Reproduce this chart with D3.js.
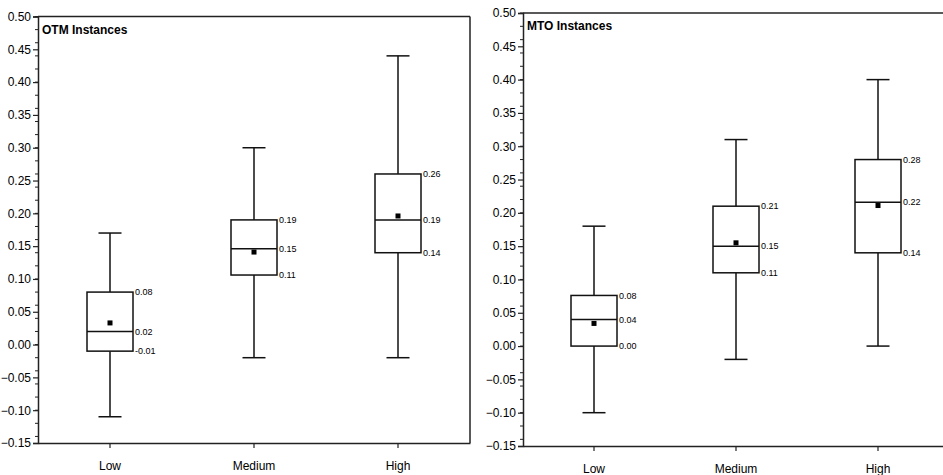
<!DOCTYPE html>
<html>
<head>
<meta charset="utf-8">
<script src="https://cdn.jsdelivr.net/npm/d3@7"></script>
<style>
  body { margin: 0; background: #fff; }
  text { font-family: "Liberation Sans", Arial, sans-serif; fill: #000; }
</style>
</head>
<body>
<div id="chart"></div>
<script>
// Categories and box statistics for both panels
var categories = ["Low", "Medium", "High"];

var otmMin = [-0.11, -0.02, -0.02];
var otmQ1 = [-0.01, 0.106, 0.14];
var otmMedian = [0.02, 0.146, 0.19];
var otmQ3 = [0.08, 0.19, 0.26];
var otmMax = [0.17, 0.30, 0.44];
var otmMean = [0.033, 0.141, 0.196];

var mtoMin = [-0.10, -0.02, 0.00];
var mtoQ1 = [0.00, 0.11, 0.14];
var mtoMedian = [0.04, 0.15, 0.216];
var mtoQ3 = [0.076, 0.21, 0.28];
var mtoMax = [0.18, 0.31, 0.40];
var mtoMean = [0.034, 0.155, 0.211];

var yDomain = [-0.15, 0.50];

var width = 943, height = 475;

var svg = d3.select("#chart")
  .append("svg")
  .attr("width", width)
  .attr("height", height);

var fmt = d3.format(".2f");

function drawPanel(opts) {
  var x = d3.scaleBand().domain(categories).range([opts.left, opts.right]).padding(0);
  var y = d3.scaleLinear().domain(yDomain).range([opts.bottom, opts.top]);
  var g = svg.append("g");

  var rows = categories.map(function(c, i) {
    return { cat: c, min: opts.min[i], q1: opts.q1[i], med: opts.median[i],
             q3: opts.q3[i], max: opts.max[i], mean: opts.mean[i] };
  });

  // frame
  g.append("line").attr("x1", opts.left).attr("x2", opts.right)
    .attr("y1", opts.top).attr("y2", opts.top)
    .attr("stroke", "#222").attr("stroke-width", 1.5);
  if (opts.rightBorder) {
    g.append("line").attr("x1", opts.right).attr("x2", opts.right)
      .attr("y1", opts.top).attr("y2", opts.bottom)
      .attr("stroke", "#222").attr("stroke-width", 1.5);
  }

  // minor y ticks
  g.selectAll(".minor").data(y.ticks(26)).enter().append("line")
    .attr("x1", opts.left - 3).attr("x2", opts.left)
    .attr("y1", function(d) { return y(d); })
    .attr("y2", function(d) { return y(d); })
    .attr("stroke", "#222").attr("stroke-width", 1);

  // y axis
  var yAxis = g.append("g")
    .attr("transform", "translate(" + opts.left + ",0)")
    .call(d3.axisLeft(y).ticks(13).tickFormat(fmt).tickSize(5).tickPadding(2));
  yAxis.select(".domain").attr("stroke", "#222").attr("stroke-width", 1.5);
  yAxis.selectAll(".tick line").attr("stroke", "#222").attr("stroke-width", 1.2);
  yAxis.selectAll("text").style("font-size", "12px").style("font-family", "Liberation Sans, Arial, sans-serif");

  // x axis
  var xAxis = g.append("g")
    .attr("transform", "translate(0," + opts.bottom + ")")
    .call(d3.axisBottom(x).tickSize(5).tickPadding(opts.xPad).tickSizeOuter(0));
  xAxis.select(".domain").attr("stroke", "#222").attr("stroke-width", 1.5);
  xAxis.selectAll(".tick line").attr("stroke", "#222").attr("stroke-width", 1.2);
  xAxis.selectAll("text").style("font-size", "12px").style("font-family", "Liberation Sans, Arial, sans-serif");

  var boxW = 46, capW = 23;
  var cx = function(d) { return x(d.cat) + x.bandwidth() / 2; };

  var box = g.selectAll(".box").data(rows).enter().append("g");

  // whiskers
  box.append("line")
    .attr("x1", cx).attr("x2", cx)
    .attr("y1", function(d) { return y(d.max); })
    .attr("y2", function(d) { return y(d.q3); })
    .attr("stroke", "#111").attr("stroke-width", 1.5);
  box.append("line")
    .attr("x1", cx).attr("x2", cx)
    .attr("y1", function(d) { return y(d.q1); })
    .attr("y2", function(d) { return y(d.min); })
    .attr("stroke", "#111").attr("stroke-width", 1.5);
  box.append("line")
    .attr("x1", function(d) { return cx(d) - capW / 2; })
    .attr("x2", function(d) { return cx(d) + capW / 2; })
    .attr("y1", function(d) { return y(d.max); })
    .attr("y2", function(d) { return y(d.max); })
    .attr("stroke", "#111").attr("stroke-width", 1.5);
  box.append("line")
    .attr("x1", function(d) { return cx(d) - capW / 2; })
    .attr("x2", function(d) { return cx(d) + capW / 2; })
    .attr("y1", function(d) { return y(d.min); })
    .attr("y2", function(d) { return y(d.min); })
    .attr("stroke", "#111").attr("stroke-width", 1.5);

  // box
  box.append("rect")
    .attr("x", function(d) { return cx(d) - boxW / 2; })
    .attr("y", function(d) { return y(d.q3); })
    .attr("width", boxW)
    .attr("height", function(d) { return y(d.q1) - y(d.q3); })
    .attr("fill", "#fff").attr("stroke", "#111").attr("stroke-width", 1.5);

  // median
  box.append("line")
    .attr("x1", function(d) { return cx(d) - boxW / 2; })
    .attr("x2", function(d) { return cx(d) + boxW / 2; })
    .attr("y1", function(d) { return y(d.med); })
    .attr("y2", function(d) { return y(d.med); })
    .attr("stroke", "#111").attr("stroke-width", 1.5);

  // mean marker
  box.append("rect")
    .attr("x", function(d) { return cx(d) - 2.5; })
    .attr("y", function(d) { return y(d.mean) - 2.5; })
    .attr("width", 5).attr("height", 5)
    .attr("fill", "#000");

  // value labels
  ["q3", "med", "q1"].forEach(function(k) {
    box.append("text")
      .attr("x", function(d) { return cx(d) + boxW / 2 + 2; })
      .attr("y", function(d) { return y(d[k]); })
      .attr("dy", "0.35em")
      .style("font-size", "9px")
      .text(function(d) { return fmt(d[k]).replace("\u2212", "-"); });
  });

  // panel title
  g.append("text")
    .attr("x", opts.left + 4)
    .attr("y", opts.top + 17)
    .style("font-size", "12px")
    .style("font-weight", "bold")
    .text(opts.title);
}

drawPanel({
  title: "OTM Instances", left: 38, right: 470, top: 16.5, bottom: 443,
  rightBorder: true, xPad: 13,
  min: otmMin, q1: otmQ1, median: otmMedian, q3: otmQ3, max: otmMax, mean: otmMean
});

drawPanel({
  title: "MTO Instances", left: 523, right: 949, top: 13, bottom: 446,
  rightBorder: false, xPad: 13,
  min: mtoMin, q1: mtoQ1, median: mtoMedian, q3: mtoQ3, max: mtoMax, mean: mtoMean
});
</script>
</body>
</html>
